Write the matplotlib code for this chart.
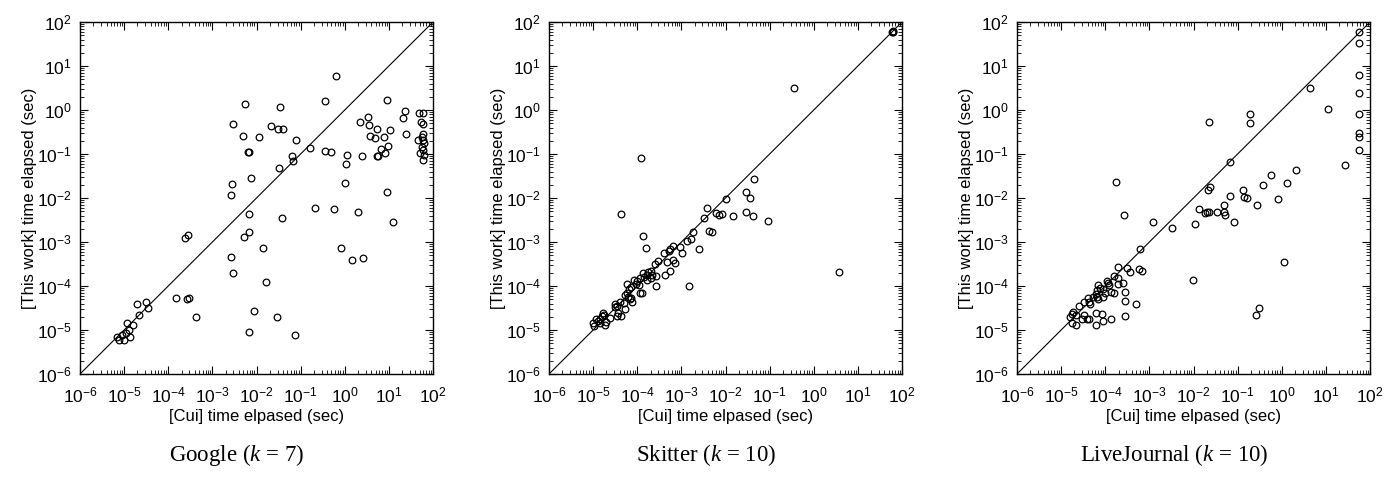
import numpy as np
import matplotlib
matplotlib.use("Agg")
import matplotlib.pyplot as plt
from matplotlib.ticker import LogLocator, NullFormatter

plt.rcParams['font.family'] = ['Liberation Sans', 'DejaVu Sans']
plt.rcParams['mathtext.fontset'] = 'custom'
plt.rcParams['mathtext.rm'] = 'Liberation Serif'
plt.rcParams['mathtext.it'] = 'Liberation Serif:italic'

# Google (k = 7): [Cui] time vs. this work time, seconds
google_cui = [6.8e-6, 7.8e-6, 8.8e-6, 9.9e-6, 1.08e-5, 1.18e-5, 1.29e-5, 1.36e-5, 1.62e-5, 1.93e-5,
              2.2e-5, 3.2e-5, 3.5e-5, 1.5e-4, 2.4e-4, 2.86e-4, 2.6e-4, 3.0e-4, 4.2e-4, 2.65e-3,
              2.9e-3, 2.6e-3, 2.75e-3, 2.9e-3, 5.5e-3, 5.0e-3, 6.3e-3, 6.8e-3, 7.4e-3, 6.6e-3,
              6.8e-3, 5.2e-3, 6.6e-3, 8.8e-3, 1.15e-2, 1.39e-2, 1.62e-2, 2.1e-2, 2.9e-2, 3.0e-2,
              3.9e-2, 3.4e-2, 3.3e-2, 3.7e-2, 6.4e-2, 6.6e-2, 7.8e-2, 7.6e-2, 0.161, 0.217,
              0.366, 0.366, 0.483, 0.64, 0.565, 0.815, 1.02, 1.08, 1.11, 1.47,
              2.0, 2.27, 2.44, 2.61, 3.33, 3.57, 3.7, 4.8, 5.5, 5.5,
              5.7, 9.0, 23.4, 20.8, 10.7, 7.8, 24.6, 9.8, 6.7, 8.2,
              9.0, 12.3, 49, 59, 53, 58, 59, 57, 46, 59,
              61, 56, 59, 51, 61, 58]
google_ours = [7.0e-6, 5.9e-6, 7.7e-6, 5.9e-6, 8.4e-6, 1.42e-5, 1.0e-5, 7.0e-6, 1.3e-5, 3.8e-5,
               2.2e-5, 4.4e-5, 3.2e-5, 5.2e-5, 1.25e-3, 1.44e-3, 5.0e-5, 5.4e-5, 2.0e-5, 4.6e-4,
               2.0e-4, 1.17e-2, 2.1e-2, 0.49, 1.35, 0.26, 0.111, 0.111, 0.028, 4.4e-3,
               1.72e-3, 1.32e-3, 9.0e-6, 2.7e-5, 0.24, 7.3e-4, 1.23e-4, 0.43, 1.94e-5, 0.377,
               0.377, 1.17, 0.049, 3.45e-3, 0.0885, 0.069, 0.208, 7.8e-6, 0.139, 6.0e-3,
               1.6, 0.119, 0.109, 5.9, 5.7e-3, 7.3e-4, 0.0223, 0.058, 0.0966, 4.0e-4,
               4.8e-3, 0.525, 0.09, 4.4e-4, 0.69, 0.456, 0.256, 0.235, 0.364, 0.0885,
               0.09, 1.69, 0.95, 0.67, 0.36, 0.245, 0.28, 0.15, 0.128, 0.104,
               0.0139, 0.0029, 0.85, 0.87, 0.53, 0.48, 0.28, 0.245, 0.21, 0.21,
               0.18, 0.145, 0.123, 0.105, 0.096, 0.072]

# Skitter (k = 10)
skitter_cui = [0.36, 1.22e-4, 0.0438, 0.0288, 0.0367, 0.0105, 3.83e-3, 0.0293, 3.33e-3, 0.0149,
               6.1e-3, 7.2e-3, 8.4e-3, 0.0415, 0.0925, 4.2e-5, 4.25e-3, 5.06e-3, 1.87e-3, 1.66e-3,
               1.32e-3, 9.3e-4, 2.52e-3, 1.05e-3, 6.4e-4, 5.5e-4, 5.3e-4, 4.06e-4, 2.96e-4, 2.53e-4,
               4.8e-4, 6.6e-4, 7.1e-4, 4.27e-4, 5.45e-4, 1.33e-4, 1.58e-4, 1.47e-3, 2.62e-4, 3.83,
               2.02e-4, 1.79e-4, 1.38e-4, 1.64e-4, 2.13e-4, 2.67e-4, 1.43e-4, 1.16e-4, 2.02e-4, 1.64e-4,
               1.0e-4, 8.5e-5, 9.4e-5, 1.12e-4, 1.16e-4, 1.26e-4, 5.9e-5, 6.5e-5, 7.1e-5, 5.8e-5,
               6.3e-5, 7.1e-5, 5.3e-5, 7.5e-5, 5.1e-5, 4.07e-5, 5.3e-5, 6.9e-5, 3.08e-5, 3.08e-5,
               3.73e-5, 3.54e-5, 4.2e-5, 2.42e-5, 1.96e-5, 1.65e-5, 1.56e-5, 1.43e-5, 1.32e-5, 1.16e-5,
               1.01e-5, 1.05e-5, 1.43e-5, 1.86e-5, 1.77e-5, 3.42e-5, 60, 62, 63]
skitter_ours = [3.16, 0.080, 0.027, 0.0135, 9.8e-3, 9.3e-3, 5.8e-3, 4.8e-3, 3.57e-3, 3.83e-3,
                4.6e-3, 4.2e-3, 4.3e-3, 4.0e-3, 2.95e-3, 4.3e-3, 1.75e-3, 1.66e-3, 1.66e-3, 1.17e-3,
                1.07e-3, 7.8e-4, 7.05e-4, 5.5e-4, 8.1e-4, 6.8e-4, 6.4e-4, 5.5e-4, 3.77e-4, 3.16e-4,
                3.5e-4, 4.0e-4, 3.27e-4, 1.78e-4, 2.15e-4, 1.37e-3, 7.4e-4, 1.02e-4, 1.02e-4, 2.08e-4,
                2.19e-4, 2.05e-4, 1.94e-4, 1.78e-4, 1.78e-4, 1.72e-4, 1.57e-4, 1.49e-4, 1.49e-4, 1.37e-4,
                1.32e-4, 1.37e-4, 1.11e-4, 1.05e-4, 7.05e-5, 6.8e-5, 1.11e-4, 8.4e-5, 9.3e-5, 6.8e-5,
                5.7e-5, 5.25e-5, 6.2e-5, 4.4e-5, 4.2e-5, 4.4e-5, 3.0e-5, 5.0e-5, 3.83e-5, 3.4e-5,
                2.48e-5, 2.08e-5, 2.08e-5, 1.84e-5, 1.55e-5, 2.48e-5, 2.08e-5, 1.75e-5, 1.63e-5, 1.75e-5,
                1.42e-5, 1.23e-5, 1.42e-5, 1.28e-5, 2.2e-5, 3.5e-5, 58, 61, 60]

# LiveJournal (k = 10)
lj_cui = [57.8, 57.8, 57.8, 57.8, 10.9, 57.8, 57.8, 57.8, 57.8, 27.4,
          4.4, 0.189, 0.189, 0.023, 0.0665, 2.05, 0.565, 1.30, 0.372, 0.0234,
          0.0211, 0.131, 0.0676, 0.136, 0.161, 0.83, 0.0486, 0.282, 0.0134, 0.0183,
          0.0207, 0.0222, 0.0343, 0.0486, 0.052, 0.0847, 0.0109, 1.24e-3, 3.27e-3, 2.67e-4,
          1.76e-4, 6.2e-4, 5.9e-4, 6.7e-4, 1.99e-4, 3.18e-4, 3.66e-4, 1.11, 9.5e-3, 0.313,
          0.258, 1.58e-4, 1.99e-4, 1.08e-4, 1.18e-4, 1.24e-4, 7.0e-5, 7.6e-5, 9.1e-5, 1.99e-4,
          2.49e-4, 6.4e-5, 9.9e-5, 1.36e-4, 1.61e-4, 2.81e-4, 6.2e-5, 6.6e-5, 5.4e-5, 7.0e-5,
          8.8e-5, 4.15e-5, 4.37e-5, 3.3e-5, 4.5e-5, 2.6e-5, 1.9e-5, 1.74e-5, 2.18e-5, 3.3e-5,
          3.8e-5, 4.37e-5, 2.93e-5, 1.59e-5, 1.74e-5, 2.18e-5, 6.1e-5, 9.1e-5, 8.3e-5, 1.33e-4,
          2.77e-4, 2.81e-4, 5.0e-4, 6.2e-5]
lj_ours = [60, 33.8, 6.2, 2.47, 1.05, 0.80, 0.305, 0.247, 0.123, 0.056,
           3.16, 0.80, 0.515, 0.53, 0.0647, 0.0433, 0.0333, 0.0223, 0.0194, 0.0181,
           0.0152, 0.0155, 0.0113, 0.0107, 0.0102, 9.7e-3, 7.05e-3, 6.8e-3, 5.5e-3, 4.56e-3,
           4.8e-3, 4.8e-3, 4.9e-3, 4.9e-3, 4.2e-3, 2.9e-3, 2.52e-3, 2.8e-3, 2.12e-3, 4.1e-3,
           0.0235, 6.8e-4, 2.39e-4, 2.23e-4, 2.66e-4, 2.61e-4, 2.05e-4, 3.57e-4, 1.39e-4, 3.1e-5,
           2.2e-5, 1.69e-4, 1.55e-4, 1.3e-4, 1.15e-4, 1.05e-4, 1.05e-4, 9.2e-5, 8.7e-5, 1.09e-4,
           1.19e-4, 8.1e-5, 6.8e-5, 7.4e-5, 7.05e-5, 7.3e-5, 6.5e-5, 5.7e-5, 5.7e-5, 5.1e-5,
           5.7e-5, 5.25e-5, 4.4e-5, 4.3e-5, 3.9e-5, 3.5e-5, 2.6e-5, 2.3e-5, 2.2e-5, 2.2e-5,
           1.81e-5, 1.81e-5, 1.81e-5, 2.0e-5, 1.42e-5, 1.28e-5, 1.28e-5, 1.57e-5, 2.27e-5, 1.81e-5,
           2.12e-5, 4.6e-5, 3.9e-5, 2.48e-5]

panels = [
    (google_cui, google_ours, "Google ($\\mathit{k}$ = 7)"),
    (skitter_cui, skitter_ours, "Skitter ($\\mathit{k}$ = 10)"),
    (lj_cui, lj_ours, "LiveJournal ($\\mathit{k}$ = 10)"),
]

fig = plt.figure(figsize=(13.84, 4.8), dpi=100)
lefts = [80, 549, 1017]  # pixel positions of axes left edges

for left, (xs, ys, caption) in zip(lefts, panels):
    ax = fig.add_axes([left / 1384, 1 - 374 / 480, 353 / 1384, 352 / 480])
    ax.plot([1e-6, 1e2], [1e-6, 1e2], color='black', lw=0.8)
    ax.plot(xs, ys, 'o', mfc='none', mec='black', ms=4.8, mew=0.9)
    ax.set_xscale('log')
    ax.set_yscale('log')
    ax.set_xlim(1e-6, 1e2)
    ax.set_ylim(1e-6, 1e2)
    for axis in (ax.xaxis, ax.yaxis):
        axis.set_major_locator(LogLocator(base=10, numticks=20))
        axis.set_minor_locator(LogLocator(base=10, subs=np.arange(2, 10), numticks=20))
        axis.set_minor_formatter(NullFormatter())
    ax.tick_params(which='both', direction='in', top=True, right=True, labelsize=12.5)
    ax.tick_params(which='major', length=6, width=0.8)
    ax.tick_params(which='minor', length=3, width=0.6)
    ax.tick_params(axis='x', which='major', pad=8)
    ax.tick_params(axis='y', which='major', pad=6)
    for s in ax.spines.values():
        s.set_linewidth(1.0)
    ax.set_xlabel("[Cui] time elpased (sec)", fontsize=12, labelpad=3)
    ax.set_ylabel("[This work] time elapsed (sec)", fontsize=12, labelpad=0)
    fig.text((left + 176 - 19) / 1384, 1 - 455 / 480, caption, ha='center', va='center',
             fontsize=16.5, family='Liberation Serif')

fig.savefig("out.png", dpi=100)
